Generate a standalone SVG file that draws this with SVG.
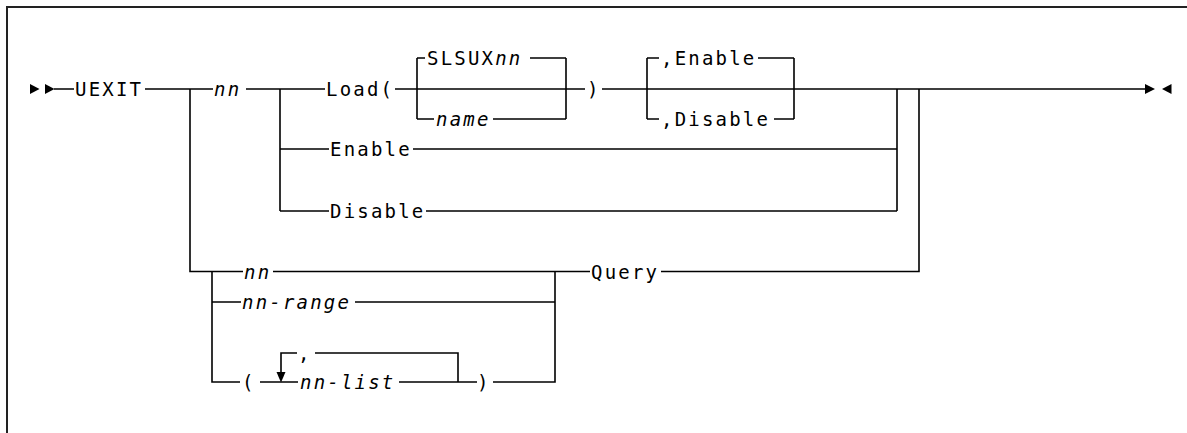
<svg xmlns="http://www.w3.org/2000/svg" width="1187" height="433" viewBox="0 0 1187 433">
<style>
.t{font-family:"DejaVu Sans Mono","Liberation Mono",monospace;font-size:19px;letter-spacing:2.2px;fill:#000}
.i{font-style:italic}
.ln{fill:none;stroke:#000;stroke-width:1.6}
.fr{fill:none;stroke:#222;stroke-width:2}
.ar{fill:#000}
</style>
<rect width="1187" height="433" fill="#fff"/>
<path class="fr" d="M7,433 V7 H1187"/>
<g id="connectors">
<path class="ln" d="M54,89 H74 M145,89 H213 M246,89 H325 M395,89 H585 M602,89 H1145"/>
<path class="ln" d="M417,58 V119 M566,58 V119 M417,58 H425 M530,58 H566 M417,119 H434 M493,119 H566"/>
<path class="ln" d="M647,58 V119 M794,58 V119 M647,58 H659 M758,58 H794 M647,119 H659 M774,119 H794"/>
<path class="ln" d="M280,89 V211 M280,149 H329 M413,149 H897 M280,211 H329 M426,211 H897 M897,89 V211"/>
<path class="ln" d="M190,89 V271.5 H243 M273,271.5 H590 M661,271.5 H919 V89"/>
<path class="ln" d="M212,271.5 V382 H240 M212,302 H241 M355,302 H555 M555,271.5 V382 H493"/>
<path class="ln" d="M260,382 H298 M399,382 H477 M458,382 V353 H315 M297,353 H281 V373"/>
<polygon class="ar" points="276.5,372 285.5,372 281,382.5"/>
<polygon class="ar" points="30,84 30,94 39.5,89"/>
<polygon class="ar" points="45,84 45,94 54.5,89"/>
<polygon class="ar" points="1145,84 1145,94 1155,89"/>
<polygon class="ar" points="1171.5,84 1171.5,94 1162,89"/>
</g>
<g id="n-uexit"><text class="t" x="75" y="96">UEXIT</text></g>
<g id="n-nn1"><text class="t i" x="214" y="96">nn</text></g>
<g id="n-load"><text class="t" x="326" y="96">Load(</text></g>
<g id="n-slsux"><text class="t" x="427" y="65">SLSUX<tspan class="i">nn</tspan></text></g>
<g id="n-name"><text class="t i" x="436" y="126">name</text></g>
<g id="n-close1"><text class="t" x="587" y="96">)</text></g>
<g id="n-enable1"><text class="t" x="661" y="65">,Enable</text></g>
<g id="n-disable1"><text class="t" x="661" y="126">,Disable</text></g>
<g id="n-enable2"><text class="t" x="330" y="156">Enable</text></g>
<g id="n-disable2"><text class="t" x="330" y="218">Disable</text></g>
<g id="n-nn2"><text class="t i" x="244" y="278.5">nn</text></g>
<g id="n-range"><text class="t i" x="242" y="309">nn-range</text></g>
<g id="n-query"><text class="t" x="591" y="278.5">Query</text></g>
<g id="n-open"><text class="t" x="242" y="389">(</text></g>
<g id="n-comma"><text class="t" x="298" y="360">,</text></g>
<g id="n-list"><text class="t i" x="300" y="389">nn-list</text></g>
<g id="n-close2"><text class="t" x="477" y="389">)</text></g>
</svg>
